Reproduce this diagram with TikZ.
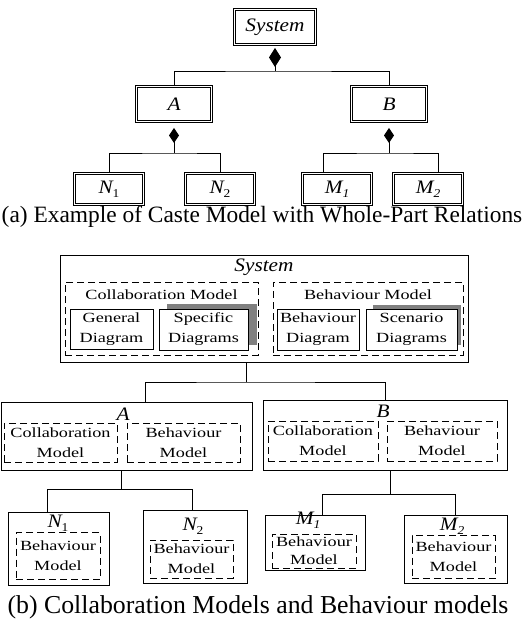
\documentclass[tikz,border=0pt]{standalone}
\usepackage{fontspec}
\setmainfont{Liberation Serif}
\newfontfamily\capfont{Liberation Serif}
\newfontfamily\boxfont[FakeStretch=1.3]{Liberation Serif}
\newfontfamily\lblfont[FakeStretch=1.12]{Liberation Serif}
\usetikzlibrary{arrows.meta}

% font shortcuts
\newcommand\bxf{\boxfont\fontsize{14}{20}\selectfont}
\newcommand\itf{\lblfont\itshape\fontsize{19}{22}\selectfont}
\newcommand\Sub[2]{#1\raisebox{-0.22em}{\fontsize{12}{12}\selectfont #2}}

\tikzset{
  dblbox/.style={draw, double, double distance=1.6pt, line width=0.9pt,
    fill=white, inner sep=0pt, font=\itf},
  solidbox/.style={draw, line width=1pt, fill=white, inner sep=0pt},
  dashbox/.style={draw, line width=1pt, dash pattern=on 7pt off 4pt, inner sep=0pt},
  shadowbox/.style={fill=black!50, inner sep=0pt},
  boxtext/.style={font=\bxf, align=center, inner sep=0pt},
  itlabel/.style={font=\itf, inner sep=0pt},
  conn/.style={line width=1pt},
  wholebig/.style={{Diamond[length=19pt,width=12pt]}-, shorten <=3pt},
  wholesmall/.style={{Diamond[length=15pt,width=10pt]}-, shorten <=6pt},
  caption/.style={inner sep=0pt}
}

\begin{document}
\begin{tikzpicture}[x=1pt, y=-1pt]
\useasboundingbox (0,0) rectangle (528,621);

% ---------- (a) whole-part hierarchy ----------
\node[dblbox, minimum width=81pt, minimum height=35pt] (sysA) at (275,27) {System};
\node[dblbox, minimum width=75pt, minimum height=35pt] (aA) at (174,104) {A};
\node[dblbox, minimum width=75pt, minimum height=35pt] (bA) at (389,104) {B};
\node[dblbox, minimum width=69pt, minimum height=31pt] (n1A) at (109,189) {\Sub{N}{\upshape 1}};
\node[dblbox, minimum width=69pt, minimum height=31pt] (n2A) at (220,189) {\Sub{N}{\upshape 2}};
\node[dblbox, minimum width=69pt, minimum height=31pt] (m1A) at (337,189) {\Sub{M}{1}};
\node[dblbox, minimum width=69pt, minimum height=31pt] (m2A) at (428,189) {\Sub{M}{2}};

\coordinate (barS) at (0,71);
\coordinate (barN) at (0,153);
\coordinate (m1top) at (323,153);
\coordinate (m2top) at (438,153);

\draw[conn, wholebig] (sysA.south) -- (sysA.south |- barS);
\draw[conn] (aA.north) |- (sysA.south |- barS) -| (bA.north);

\draw[conn, wholesmall] (aA.south) -- (aA.south |- barN);
\draw[conn] (n1A.north) |- (aA.south |- barN) -| (n2A.north);

\draw[conn, wholesmall] (bA.south) -- (bA.south |- barN);
\draw[conn] (m1top |- m1A.north) -- (m1top) -- (bA.south |- barN) -- (m2top) -- (m2top |- m2A.north);

\node[caption, font=\capfont\fontsize{23.4}{28}\selectfont] (capA) at (262,217)
  {(a) Example of Caste Model with Whole-Part Relations};

% ---------- (b) collaboration and behaviour models ----------
\node[solidbox, minimum width=408pt, minimum height=107pt] (sysB) at (264,308.5) {};
\node[itlabel] (sysBl) at (264,267) {System};

\node[dashbox, minimum width=193pt, minimum height=73pt] (collS) at (161.5,318.5) {};
\node[boxtext] (collSl) at (161.5,295) {Collaboration Model};
\node[dashbox, minimum width=190pt, minimum height=73pt] (behS) at (368,318.5) {};
\node[boxtext] (behSl) at (368,295) {Behaviour Model};

\node[shadowbox, minimum width=90pt, minimum height=41pt] (specSh) at (212,324.5) {};
\node[shadowbox, minimum width=88pt, minimum height=40pt] (scenSh) at (417,325) {};

\node[solidbox, boxtext, minimum width=83pt, minimum height=40pt] (gen) at (111.5,329) {General\\Diagram};
\node[solidbox, boxtext, minimum width=89pt, minimum height=41pt] (spec) at (203.5,329.5) {Specific\\Diagrams};
\node[solidbox, boxtext, minimum width=82pt, minimum height=41pt] (bdia) at (318,329.5) {Behaviour\\Diagram};
\node[solidbox, boxtext, minimum width=91pt, minimum height=41pt] (scen) at (411.5,329.5) {Scenario\\Diagrams};

% subsystem A
\node[solidbox, minimum width=251pt, minimum height=68pt] (aB) at (126.5,436) {};
\node[itlabel] (aBl) at (123,414) {A};
\node[dashbox, boxtext, minimum width=113pt, minimum height=39pt] (aColl) at (60.5,442.5) {Collaboration\\Model};
\node[dashbox, boxtext, minimum width=113pt, minimum height=39pt] (aBeh) at (183.5,442.5) {Behaviour\\Model};

% subsystem B
\node[solidbox, minimum width=244pt, minimum height=70pt] (bB) at (385,435) {};
\node[itlabel] (bBl) at (383,411) {B};
\node[dashbox, boxtext, minimum width=110pt, minimum height=40pt] (bColl) at (323,441) {Collaboration\\Model};
\node[dashbox, boxtext, minimum width=110pt, minimum height=40pt] (bBeh) at (442,441) {Behaviour\\Model};

% leaf components
\node[solidbox, minimum width=101pt, minimum height=73pt] (n1B) at (58.5,548.5) {};
\node[itlabel] (n1Bl) at (58,523) {\Sub{N}{\upshape 1}};
\node[dashbox, boxtext, minimum width=84pt, minimum height=47pt] (n1Beh) at (58,556) {Behaviour\\Model};

\node[solidbox, minimum width=104pt, minimum height=73pt] (n2B) at (195,546.5) {};
\node[itlabel] (n2Bl) at (193,526) {\Sub{N}{\upshape 2}};
\node[dashbox, boxtext, minimum width=83pt, minimum height=38pt] (n2Beh) at (191.5,559) {Behaviour\\Model};

\node[solidbox, minimum width=100pt, minimum height=55pt] (m1B) at (315,542.5) {};
\node[itlabel] (m1Bl) at (308,520) {\Sub{M}{1}};
\node[dashbox, boxtext, font=\boxfont\fontsize{14}{18}\selectfont, minimum width=84pt, minimum height=34pt] (m1Beh) at (314,551) {Behaviour\\Model};

\node[solidbox, minimum width=103pt, minimum height=68pt] (m2B) at (455.5,549) {};
\node[itlabel] (m2Bl) at (452,526) {\Sub{M}{2}};
\node[dashbox, boxtext, minimum width=83pt, minimum height=43pt] (m2Beh) at (453.5,557) {Behaviour\\Model};

% connectors of (b)
\coordinate (j0) at (246,382);
\coordinate (ja) at (145,382);
\draw[conn] (j0 |- sysB.south) -- (j0);
\draw[conn] (ja |- aB.north) -- (ja) -- (j0) -| (bB.north);

\coordinate (ka) at (121,489);
\coordinate (kn1) at (47,489);
\coordinate (kn2) at (192,489);
\draw[conn] (ka |- aB.south) -- (ka);
\draw[conn] (kn1 |- n1B.north) -- (kn1) -- (kn2) -- (kn2 |- n2B.north);

\coordinate (kb) at (390,494);
\coordinate (km1) at (322,494);
\coordinate (km2) at (455,494);
\draw[conn] (kb |- bB.south) -- (kb);
\draw[conn] (km1 |- m1B.north) -- (km1) -- (km2) -- (km2 |- m2B.north);

\node[caption, font=\capfont\fontsize{25.8}{30}\selectfont] (capB) at (258,607)
  {(b) Collaboration Models and Behaviour models};
\end{tikzpicture}
\end{document}
